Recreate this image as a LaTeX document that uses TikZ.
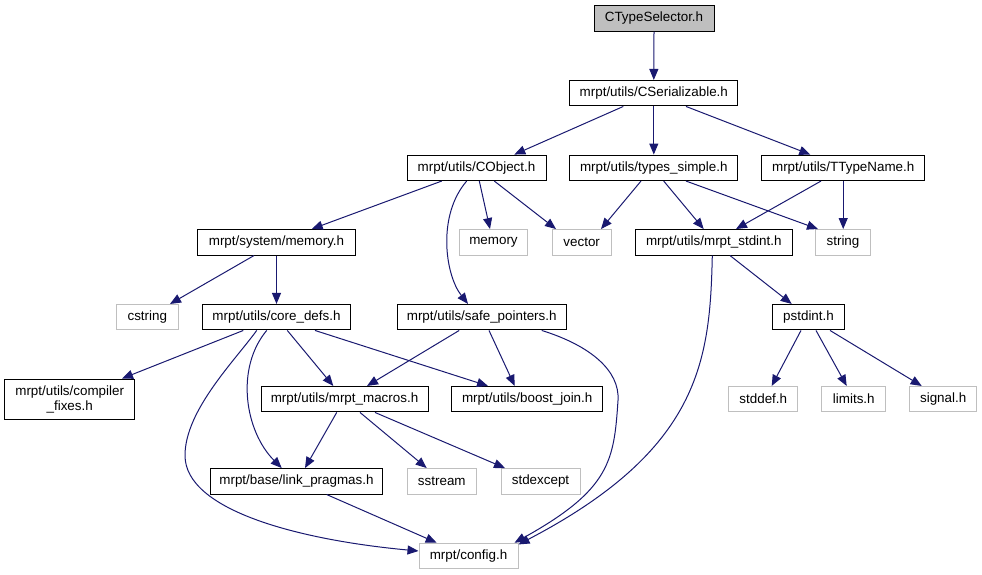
\documentclass[tikz,border=0pt]{standalone}
\usepackage{fontspec}
\setmainfont{Liberation Sans}
\usetikzlibrary{arrows.meta}
\definecolor{edgecol}{HTML}{191970}
\definecolor{graybd}{HTML}{BFBFBF}
\begin{document}
\begin{tikzpicture}[x=1pt,y=-1pt,
  box/.style={draw=black,line width=1pt,rectangle,inner sep=0pt,minimum height=25.5pt,
    font=\fontsize{13.4}{15}\selectfont},
  sysbox/.style={box,draw=graybd},
  e/.style={draw=edgecol,line width=1pt,-{Triangle[length=11pt,width=9pt]}}]
\useasboundingbox (0,0) rectangle (982,575);

% nodes
\node[box,fill=graybd,minimum width=120pt] (ctype) at (654,18.5) {CTypeSelector.h};
\node[box,minimum width=168.3pt] (ser) at (653.8,93.2) {mrpt/utils/CSerializable.h};
\node[box,minimum width=139pt] (cobj) at (476.5,167.8) {mrpt/utils/CObject.h};
\node[box,minimum width=168.3pt] (types) at (653.8,167.8) {mrpt/utils/types\_simple.h};
\node[box,minimum width=163pt] (ttype) at (843.2,167.8) {mrpt/utils/TTypeName.h};
\node[box,minimum width=157.6pt] (sysmem) at (276.5,242.3) {mrpt/system/memory.h};
\node[sysbox,minimum width=68.4pt] (memory) at (493.5,242.3) {memory};
\node[sysbox,minimum width=58.7pt] (vector) at (581.7,242.3) {vector};
\node[box,minimum width=156.5pt] (stdint) at (713.8,242.3) {mrpt/utils/mrpt\_stdint.h};
\node[sysbox,minimum width=55pt] (string) at (843,242.3) {string};
\node[sysbox,minimum width=62pt] (cstring) at (147.3,317.2) {cstring};
\node[box,minimum width=148.4pt] (core) at (276.5,317.2) {mrpt/utils/core\_defs.h};
\node[box,minimum width=169.4pt] (safe) at (481.7,317.2) {mrpt/utils/safe\_pointers.h};
\node[box,minimum width=72.4pt] (pstd) at (808.5,317.2) {pstdint.h};
\node[box,minimum width=130pt,minimum height=40.3pt,align=center] (compfix) at (69.7,399.2) {mrpt/utils/compiler\\\_fixes.h};
\node[box,minimum width=167pt] (macros) at (344.5,399.2) {mrpt/utils/mrpt\_macros.h};
\node[box,minimum width=151pt] (boost) at (527.2,399.2) {mrpt/utils/boost\_join.h};
\node[sysbox,minimum width=69.3pt] (stddef) at (763.3,399.2) {stddef.h};
\node[sysbox,minimum width=64.3pt] (limits) at (853.8,399.2) {limits.h};
\node[sysbox,minimum width=67pt] (signal) at (943.2,399.2) {signal.h};
\node[box,minimum width=172.4pt] (link) at (296.5,481.3) {mrpt/base/link\_pragmas.h};
\node[sysbox,minimum width=69.5pt] (sstream) at (441.8,481.3) {sstream};
\node[sysbox,minimum width=79pt] (stdexc) at (540.5,481.3) {stdexcept};
\node[sysbox,minimum width=99pt] (config) at (468.5,556) {mrpt/config.h};

% edges
\draw[e] (ctype.south) -- (ser.north);
\draw[e] ([xshift=-30.5pt]ser.south) -- ([xshift=37.8pt]cobj.north);
\draw[e] (ser.south) -- (types.north);
\draw[e] ([xshift=32.2pt]ser.south) -- ([xshift=-32.9pt]ttype.north);

\draw[e] ([xshift=-34.8pt]cobj.south) -- ([xshift=35.2pt]sysmem.north);
\draw[e] ([xshift=-9.8pt]cobj.south) .. controls +(-29.7,34.3) and +(-23,-29.3) .. ([xshift=-13.7pt]safe.north);
\draw[e] ([xshift=2.8pt]cobj.south) -- ([xshift=-3.5pt]memory.north);
\draw[e] ([xshift=17.8pt]cobj.south) -- ([xshift=-25.7pt]vector.north);

\draw[e] ([xshift=-12.8pt]types.south) -- ([xshift=19.3pt]vector.north);
\draw[e] ([xshift=9.9pt]types.south) -- ([xshift=-10.1pt]stdint.north);
\draw[e] ([xshift=32.2pt]types.south) -- ([xshift=-25pt]string.north);

\draw[e] ([xshift=-22.2pt]ttype.south) -- ([xshift=22.2pt]stdint.north);
\draw[e] (ttype.south) -- (ttype.south |- string.north);

\draw[e] ([xshift=-22.5pt]sysmem.south) -- ([xshift=22.7pt]cstring.north);
\draw[e] (sysmem.south) -- (core.north);

\draw[e] ([xshift=-33.2pt]core.south) -- ([xshift=52.3pt]compfix.north);
\draw[e] ([xshift=-19.8pt]core.south) .. controls +(-21.7,30) and +(0,-45) .. ++(-71.7,125)
   .. controls +(0,55) and +(-119,-11) .. ([yshift=5pt]config.west);
\draw[e] ([xshift=-9.8pt]core.south) .. controls +(-31.7,38) and +(-36.7,-36.7) .. ([xshift=-14.8pt]link.north);
\draw[e] ([xshift=10.8pt]core.south) -- ([xshift=-11.2pt]macros.north);
\draw[e] ([xshift=38.5pt]core.south) -- ([xshift=-39.2pt]boost.north);

\draw[e] ([xshift=-22.5pt]safe.south) -- ([xshift=22.5pt]macros.north);
\draw[e] ([xshift=7.3pt]safe.south) -- ([xshift=-12.5pt]boost.north);
\draw[e] ([xshift=60pt]safe.south) .. controls +(48.3,15) and +(2,-30) .. ++(76.3,70)
   .. controls +(-4,60) and +(96,-53.3) .. ([xshift=-4pt]config.north east);

\draw[e] ([xshift=-7.8pt]macros.south) -- ([xshift=8.5pt]link.north);
\draw[e] ([xshift=15.5pt]macros.south) -- ([xshift=-15.1pt]sstream.north);
\draw[e] ([xshift=30.5pt]macros.south) -- ([xshift=-35.5pt]stdexc.north);

\draw[e] ([xshift=30.2pt]link.south) -- ([xshift=-31.8pt]config.north);

\draw[e] ([xshift=-1.5pt]stdint.south) .. controls +(-2.3,105) and +(182,-95) .. ([yshift=-1.7pt]config.north east);
\draw[e] ([xshift=16.2pt]stdint.south) -- ([xshift=-16.8pt]pstd.north);

\draw[e] ([xshift=-7.5pt]pstd.south) -- ([xshift=8.4pt]stddef.north);
\draw[e] ([xshift=7.5pt]pstd.south) -- ([xshift=-7.1pt]limits.north);
\draw[e] ([xshift=21.5pt]pstd.south) -- ([xshift=-21.5pt]signal.north);
\end{tikzpicture}
\end{document}
